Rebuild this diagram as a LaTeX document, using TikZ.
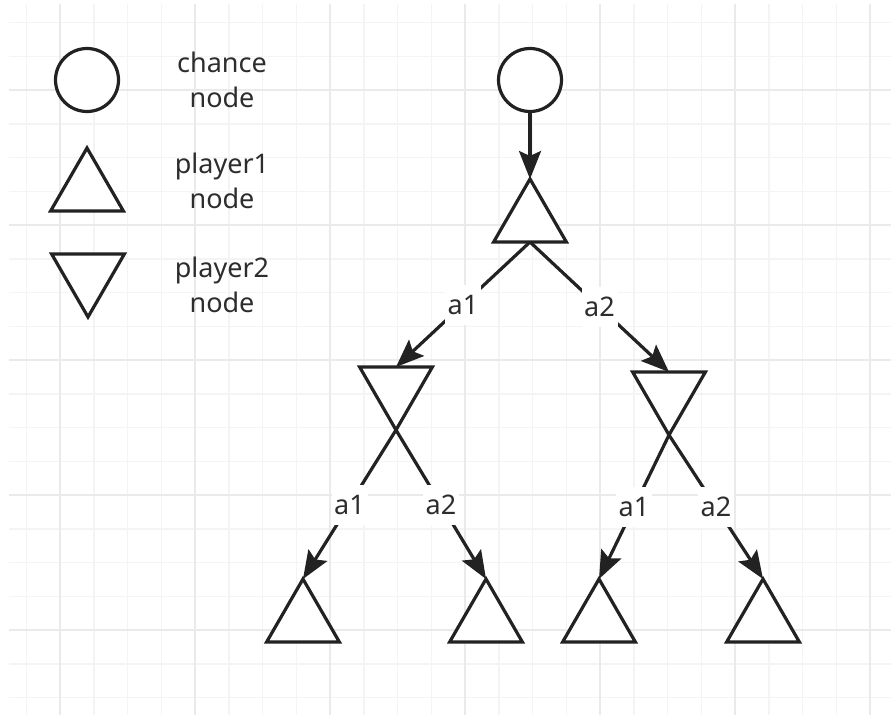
\documentclass[tikz,border=0pt]{standalone}
\usepackage{fontspec}
\setmainfont{Noto Sans}
\usetikzlibrary{shapes.geometric,arrows.meta}
\definecolor{ink}{RGB}{34,34,34}
\definecolor{txt}{RGB}{45,45,45}
\definecolor{gridminor}{RGB}{244,244,244}
\definecolor{gridmajor}{RGB}{234,234,234}

\begin{document}
\begin{tikzpicture}[x=1pt,y=-1pt,
  chance/.style={circle,draw=ink,line width=3.2pt,fill=white,minimum size=63pt,inner sep=0pt,outer sep=0pt},
  upnode/.style={regular polygon,regular polygon sides=3,draw=ink,line width=3.2pt,fill=white,minimum size=84pt,inner sep=0pt,outer sep=0pt},
  downnode/.style={upnode,shape border rotate=180},
  legendtext/.style={text=txt,align=center,font=\fontsize{27pt}{35pt}\selectfont},
  move/.style={draw=ink,line width=3.2pt,-{Stealth[length=28pt,width=22pt,inset=5pt]}},
  act/.style={fill=white,text=txt,font=\fontsize{27pt}{35pt}\selectfont,minimum width=36pt,minimum height=40pt,inner sep=0pt},
]
% canvas
\fill[white] (0,0) rectangle (891,715);
\useasboundingbox (0,0) rectangle (891,715);

% background grid: light minor lines, darker every fourth line
\foreach \k in {-1,...,24}{
  \pgfmathsetmacro\gx{60+33.75*\k}
  \draw[gridminor,line width=1.5pt] (\gx,4) -- (\gx,715);
}
\foreach \k in {-2,...,18}{
  \pgfmathsetmacro\gy{90+33.75*\k}
  \draw[gridminor,line width=1.5pt] (9,\gy) -- (891,\gy);
}
\foreach \gx in {60,195,330,465,600,735,870}
  \draw[gridmajor,line width=1.8pt] (\gx,4) -- (\gx,715);
\foreach \gy in {90,225,360,495,630}
  \draw[gridmajor,line width=1.8pt] (9,\gy) -- (891,\gy);

% legend
\node[chance] (keychance) at (87,80) {};
\node[upnode] (keyp1) at (87,190) {};
\node[downnode] (keyp2) at (88,275) {};
\node[legendtext] (keychancetext) at (222,80) {chance\\node};
\node[legendtext] (keyp1text) at (222,181) {player1\\node};
\node[legendtext] (keyp2text) at (222,285) {player2\\node};

% game tree
\node[chance] (root) at (530,80) {};
\node[upnode] (p1) at (530,221) {};
\node[downnode] (p2l) at (396,388) {};
\node[downnode] (p2r) at (669,393) {};
\node[upnode] (leafa) at (303,621) {};
\node[upnode] (leafb) at (486,621) {};
\node[upnode] (leafc) at (599,621) {};
\node[upnode] (leafd) at (763,621) {};

\draw[move] (root.south) -- (p1.corner 1);
\draw[move] (p1.side 2) -- node[act,midway] (p1a1) {a1} (p2l.side 2);
\draw[move] (p1.side 2) -- node[act,midway] (p1a2) {a2} (p2r.side 2);
\draw[move] (p2l.corner 1) -- node[act,midway] (p2la1) {a1} (leafa.corner 1);
\draw[move] (p2l.corner 1) -- node[act,midway] (p2la2) {a2} (leafb.corner 1);
\draw[move] (p2r.corner 1) -- node[act,midway] (p2ra1) {a1} (leafc.corner 1);
\draw[move] (p2r.corner 1) -- node[act,midway] (p2ra2) {a2} (leafd.corner 1);
\end{tikzpicture}
\end{document}
